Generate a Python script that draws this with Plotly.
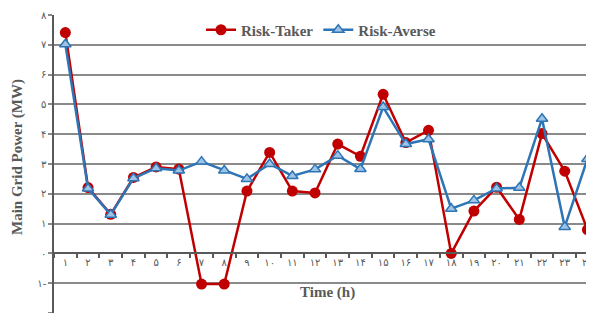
import plotly.graph_objects as go

hours_fa = ["۱", "۲", "۳", "۴", "۵", "۶", "۷", "۸", "۹", "۱۰", "۱۱", "۱۲",
            "۱۳", "۱۴", "۱۵", "۱۶", "۱۷", "۱۸", "۱۹", "۲۰", "۲۱", "۲۲", "۲۳", "۲۴"]
risk_taker = [7.41, 2.21, 1.31, 2.55, 2.90, 2.83, -1.03, -1.03, 2.09, 3.39, 2.09, 2.03,
              3.67, 3.26, 5.34, 3.72, 4.13, 0.0, 1.42, 2.22, 1.14, 4.02, 2.76, 0.80]
risk_averse = [7.02, 2.18, 1.30, 2.52, 2.86, 2.78, 3.08, 2.78, 2.50, 3.00, 2.60, 2.82,
               3.28, 2.83, 4.91, 3.67, 3.83, 1.50, 1.78, 2.18, 2.20, 4.52, 0.89, 3.17]
y_ticks = [-2, -1, 0, 1, 2, 3, 4, 5, 6, 7, 8]
y_ticktext = ["۲-", "۱-", "۰", "۱", "۲", "۳", "۴", "۵", "۶", "۷", "۸"]

# page body has an 8px default margin; figure is sized so it ends at the window edge
OFF = 8
W, H = 594 - OFF, 313 - OFF
L, R, T, B = 54 - OFF, 0, 15 - OFF, 0
pw, ph = W - L - R, H - T - B

def px_x(p):
    return (p - OFF - L) / pw

def px_y(p):
    return (H - B - (p - OFF)) / ph

grey = "#595959"
serif = "Liberation Serif, Times New Roman, serif"

fig = go.Figure()
fig.add_trace(go.Scatter(
    x=hours_fa, y=risk_taker, name="Risk-Taker", mode="lines+markers",
    line=dict(color="#C00000", width=2.5), cliponaxis=False,
    marker=dict(symbol="circle", size=11, color="#C00000"),
))
fig.add_trace(go.Scatter(
    x=hours_fa, y=risk_averse, name="Risk-Averse", mode="lines+markers",
    line=dict(color="#2E75B6", width=2.5), cliponaxis=False,
    marker=dict(symbol="triangle-up", size=10, color="#9DC3E6",
                line=dict(color="#2E75B6", width=1.5)),
))

fig.update_layout(
    width=W, height=H,
    margin=dict(l=L, r=R, t=T, b=B),
    paper_bgcolor="white", plot_bgcolor="white",
    showlegend=True,
    legend=dict(orientation="h", x=px_x(201), y=px_y(30), xanchor="left", yanchor="middle",
                font=dict(family=serif, size=15, color=grey, weight="bold"),
                bgcolor="rgba(0,0,0,0)", itemwidth=30, tracegroupgap=0),
    xaxis=dict(
        type="category", categoryorder="array", categoryarray=hours_fa,
        range=[-0.5, 23.29], anchor="free", position=0.2,
        showline=True, linecolor=grey, linewidth=1.5,
        ticks="outside", ticklen=4, tickcolor=grey, tickwidth=1.5,
        tickson="boundaries", showgrid=False, zeroline=False,
        tickfont=dict(family="DejaVu Sans", size=10, color=grey),
    ),
    yaxis=dict(
        range=[-2, 8], tickvals=y_ticks, ticktext=y_ticktext,
        showline=True, linecolor=grey, linewidth=1.5,
        ticks="outside", ticklen=4, tickcolor="#8A8A8A", tickwidth=1.5,
        showgrid=True, gridcolor="#8A8A8A", gridwidth=1.5, zeroline=False,
        tickfont=dict(family="DejaVu Sans", size=10, color=grey),
    ),
    annotations=[
        dict(text="Main Grid Power (MW)", textangle=-90, x=px_x(17), y=px_y(157),
             xref="paper", yref="paper", showarrow=False, xanchor="center", yanchor="middle",
             font=dict(family=serif, size=15, color=grey, weight="bold")),
        dict(text="Time (h)", x=px_x(327), y=px_y(292),
             xref="paper", yref="paper", showarrow=False, xanchor="center", yanchor="middle",
             font=dict(family=serif, size=15, color=grey, weight="bold")),
    ],
)

fig.write_html("out.html")
